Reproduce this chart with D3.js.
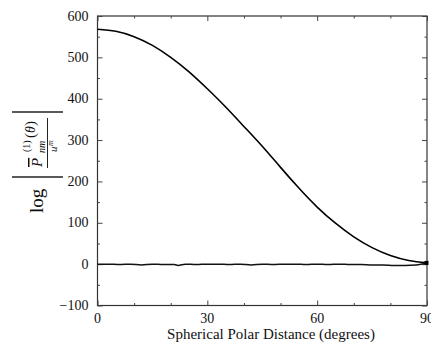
<!DOCTYPE html>
<html>
<head>
<meta charset="utf-8">
<script src="https://cdn.jsdelivr.net/npm/d3@7"></script>
<style>
  body { margin: 0; background: #fff; }
  svg text { font-family: "Liberation Serif", "Times New Roman", "DejaVu Serif", serif; fill: #111; }
</style>
</head>
<body>
<div id="container"></div>
<script>
/* DATA */
const curveDeg = [0, 5, 10, 15, 20, 25, 30, 35, 40, 45, 50, 55, 60, 65, 70, 75, 80, 85, 90];
const curveVal = [568, 563, 550, 529, 500, 465, 424, 380, 333, 285, 234, 184, 138, 99, 66, 40, 21, 9, 3];

const flatDeg = [0, 3, 6, 9, 12, 15, 18, 21, 22, 24, 27, 30, 33, 36, 39, 42, 45, 48, 51, 54, 57, 60, 63, 66, 69, 72, 75, 78, 81, 84, 87, 90];
const flatVal = [0, 0, -1, 0, -2, 0, -1, -1, -3, 0, -1, 0, 0, -1, 0, -2, 0, -1, 0, 0, -1, 0, -1, 0, -1, -1, -2, -2, -3, -3, -2, 2];

const xTicks = [0, 30, 60, 90];
const xMinor = [10, 20, 40, 50, 70, 80];
const yTicks = [-100, 0, 100, 200, 300, 400, 500, 600];
const yMinor = [-50, 50, 150, 250, 350, 450, 550];

/* CONSTANTS */
const width = 431, height = 344;
const margin = { top: 16, right: 4, bottom: 38.5, left: 97.5 };
const serif = "'Liberation Serif', 'Times New Roman', 'DejaVu Serif', serif";

const x = d3.scaleLinear().domain([0, 90]).range([margin.left, width - margin.right]);
const y = d3.scaleLinear().domain([-100, 600]).range([height - margin.bottom, margin.top]);

const svg = d3.select("#container")
  .append("svg")
  .attr("width", width)
  .attr("height", height)
  .attr("font-family", serif);

// FRAME
svg.append("rect")
  .attr("x", x(0)).attr("y", y(600))
  .attr("width", x(90) - x(0)).attr("height", y(-100) - y(600))
  .attr("fill", "none").attr("stroke", "#333").attr("stroke-width", 1.2);

// AXES (ticks pointing inward on all four sides)
const addX = (axis, ty, vals, len) => {
  const g = svg.append("g").attr("transform", `translate(0,${ty})`)
    .call(axis(x).tickValues(vals).tickSize(len).tickFormat(""));
  g.select(".domain").remove();
  g.selectAll("line").attr("stroke", "#444");
};
const addY = (axis, tx, vals, len) => {
  const g = svg.append("g").attr("transform", `translate(${tx},0)`)
    .call(axis(y).tickValues(vals).tickSize(len).tickFormat(""));
  g.select(".domain").remove();
  g.selectAll("line").attr("stroke", "#444");
};

addX(d3.axisTop, y(-100), xTicks, 5);
addX(d3.axisTop, y(-100), xMinor, 2.5);
addX(d3.axisBottom, y(600), xTicks, 5);
addX(d3.axisBottom, y(600), xMinor, 2.5);
addY(d3.axisRight, x(0), yTicks, 5);
addY(d3.axisRight, x(0), yMinor, 2.5);
addY(d3.axisLeft, x(90), yTicks, 5);
addY(d3.axisLeft, x(90), yMinor, 2.5);

// TICK LABELS
svg.selectAll(".xlab")
  .data(xTicks)
  .join("text")
  .attr("class", "xlab")
  .attr("x", d => x(d))
  .attr("y", y(-100) + 17)
  .attr("text-anchor", "middle")
  .attr("font-size", 14)
  .text(d => d);

svg.selectAll(".ylab")
  .data(yTicks)
  .join("text")
  .attr("class", "ylab")
  .attr("x", x(0) - 9)
  .attr("y", d => y(d) + 4.5)
  .attr("text-anchor", "end")
  .attr("font-size", 14)
  .text(d => d3.format("d")(d).replace("-", "\u2212"));

// X TITLE
svg.append("text")
  .attr("x", 271)
  .attr("y", 339)
  .attr("text-anchor", "middle")
  .attr("font-size", 15)
  .text("Spherical Polar Distance (degrees)");

// Y TITLE: log | P̄(1)nm(θ) / u^m |
// rotated group: local (lx, ly) -> screen (ly, -lx)
const yl = svg.append("g").attr("transform", "rotate(-90)");
yl.append("text").attr("x", -213).attr("y", 43).attr("font-size", 19).text("log");
yl.append("text").attr("x", -167).attr("y", 42).attr("font-size", 15)
  .attr("font-style", "italic").style("text-decoration", "overline").text("P");
yl.append("text").attr("x", -152).attr("y", 30).attr("font-size", 10).text("(1)");
yl.append("text").attr("x", -153).attr("y", 45).attr("font-size", 10)
  .attr("font-style", "italic").text("nm");
yl.append("text").attr("x", -138).attr("y", 35).attr("font-size", 15).text("(");
yl.append("text").attr("x", -133).attr("y", 35).attr("font-size", 14)
  .attr("font-style", "italic").text("\u03b8");
yl.append("text").attr("x", -126).attr("y", 35).attr("font-size", 15).text(")");
yl.append("text").attr("x", -152).attr("y", 57).attr("font-size", 11)
  .attr("font-style", "italic").text("u");
yl.append("text").attr("x", -146).attr("y", 53).attr("font-size", 8)
  .attr("font-style", "italic").text("m");

// bars and fraction line
svg.append("line").attr("x1", 12).attr("x2", 63).attr("y1", 112).attr("y2", 112)
  .attr("stroke", "#222").attr("stroke-width", 1.4);
svg.append("line").attr("x1", 12).attr("x2", 63).attr("y1", 177).attr("y2", 177)
  .attr("stroke", "#222").attr("stroke-width", 1.4);
svg.append("line").attr("x1", 47.5).attr("x2", 47.5).attr("y1", 118).attr("y2", 168)
  .attr("stroke", "#222").attr("stroke-width", 1);

// LINES
const lineCurve = d3.line()
  .x((d, i) => x(curveDeg[i]))
  .y(d => y(d))
  .curve(d3.curveNatural);

svg.append("path")
  .datum(curveVal)
  .attr("d", lineCurve)
  .attr("fill", "none")
  .attr("stroke", "#000")
  .attr("stroke-width", 1.6);

const lineFlat = d3.line()
  .x((d, i) => x(flatDeg[i]))
  .y(d => y(d))
  .curve(d3.curveMonotoneX);

svg.append("path")
  .datum(flatVal)
  .attr("d", lineFlat)
  .attr("fill", "none")
  .attr("stroke", "#111")
  .attr("stroke-width", 1.5);

// end marker at 90 degrees
svg.append("rect")
  .attr("x", x(90) - 2.5).attr("y", y(curveVal[curveVal.length - 1]) - 2)
  .attr("width", 4).attr("height", 4)
  .attr("fill", "#000");
</script>
</body>
</html>
